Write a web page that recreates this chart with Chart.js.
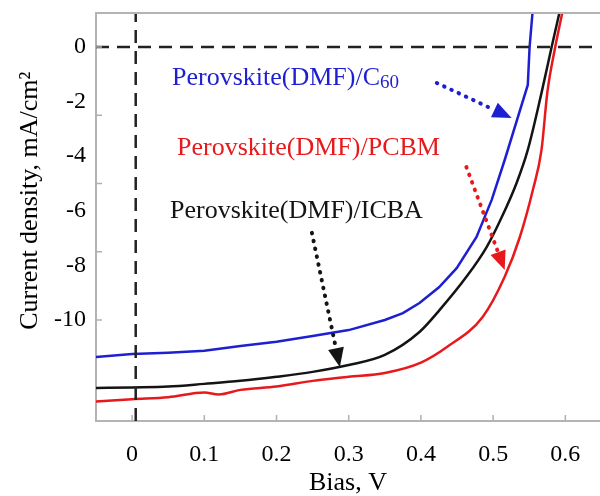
<!DOCTYPE html>
<html>
<head>
<meta charset="utf-8">
<script src="https://cdn.jsdelivr.net/npm/chart.js@4.4.1/dist/chart.umd.min.js"></script>
<style>
  html, body { margin: 0; padding: 0; background: #fff; }
  #jvChart { display: block; }
</style>
</head>
<body>
<canvas id="jvChart" width="600" height="496"></canvas>
<script>
// J-V curves (bias in V, current density in mA/cm2)
const biasC60 = [-0.05, 0, 0.05, 0.1, 0.15, 0.2, 0.25, 0.3, 0.35, 0.375, 0.398, 0.425, 0.4495, 0.477, 0.498, 0.516, 0.548, 0.5505, 0.5546];
const currentC60 = [-11.36, -11.25, -11.2, -11.13, -10.95, -10.8, -10.59, -10.37, -10.0, -9.75, -9.38, -8.8, -8.10, -6.96, -5.60, -4.14, -1.39, 0, 1.28];

const biasPCBM = [-0.05, 0, 0.05, 0.1, 0.12, 0.15, 0.2, 0.25, 0.3, 0.35, 0.4, 0.436, 0.4855, 0.516, 0.537, 0.555, 0.567, 0.575, 0.586, 0.596];
const currentPCBM = [-12.99, -12.9, -12.83, -12.66, -12.73, -12.56, -12.44, -12.23, -12.08, -11.94, -11.56, -10.99, -9.89, -8.42, -6.96, -5.24, -3.77, -1.68, 0, 1.28];

const biasICBA = [-0.05, 0, 0.05, 0.1, 0.15, 0.2, 0.25, 0.3, 0.35, 0.398, 0.426, 0.463, 0.491, 0.512, 0.5325, 0.548, 0.567, 0.581, 0.592];
const currentICBA = [-12.49, -12.47, -12.44, -12.34, -12.23, -12.08, -11.9, -11.65, -11.28, -10.44, -9.63, -8.42, -7.33, -6.23, -4.98, -3.77, -1.68, 0, 1.28];

const xTicks = [0, 0.1, 0.2, 0.3, 0.4, 0.5, 0.6];
const xTickLabels = ['0', '0.1', '0.2', '0.3', '0.4', '0.5', '0.6'];
const yTicks = [-10, -8, -6, -4, -2, 0];
const yTickLabels = ['-10', '-8', '-6', '-4', '-2', '0'];
const yMinorTicks = [-10, -7.5, -5, -2.5, 0];

const xRange = [-0.05, 0.648];
const yRange = [-13.7, 1.245];
const zeroBias = 0.005;

const serif = "'Liberation Serif', 'Times New Roman', serif";
const BLUE = '#1f1fd2';
const RED = '#e8191c';
const BLACK = '#141414';

// labels and dotted arrows, placed in data coordinates
const notes = [
    { text: 'Perovskite(DMF)/C', sub: '60', color: BLUE, x: 0.0553, y: -1.39 },
    { text: 'Perovskite(DMF)/PCBM', color: RED, x: 0.0622, y: -3.96 },
    { text: 'Perovskite(DMF)/ICBA', color: BLACK, x: 0.0526, y: -6.26 }
];
const arrows = [
    { color: BLUE, from: [0.422, -1.32], to: [0.5256, -2.60] },
    { color: RED, from: [0.463, -4.40], to: [0.516, -8.17] },
    { color: BLACK, from: [0.249, -6.81], to: [0.2877, -11.72] }
];

function toPoints(xs, ys) {
    return xs.map(function (v, i) { return { x: v, y: ys[i] }; });
}

const decorPlugin = {
    id: 'decor',
    afterDatasetsDraw: function (chart) {
        const ctx = chart.ctx;
        const xs = chart.scales.x;
        const ys = chart.scales.y;
        const area = chart.chartArea;

        ctx.save();
        // top frame
        ctx.strokeStyle = '#b4b4b4';
        ctx.lineWidth = 2;
        ctx.beginPath();
        ctx.moveTo(area.left, area.top);
        ctx.lineTo(area.right, area.top);
        ctx.stroke();

        // inward tick marks
        ctx.lineWidth = 1.5;
        ctx.strokeStyle = '#b0b0b0';
        xTicks.forEach(function (v) {
            const px = xs.getPixelForValue(v);
            ctx.beginPath();
            ctx.moveTo(px, area.bottom);
            ctx.lineTo(px, area.bottom - 6);
            ctx.stroke();
        });
        yMinorTicks.forEach(function (v) {
            const py = ys.getPixelForValue(v);
            ctx.beginPath();
            ctx.moveTo(area.left, py);
            ctx.lineTo(area.left + 6, py);
            ctx.stroke();
        });

        // notes
        ctx.textBaseline = 'alphabetic';
        ctx.textAlign = 'left';
        notes.forEach(function (n) {
            const px = xs.getPixelForValue(n.x);
            const py = ys.getPixelForValue(n.y);
            ctx.fillStyle = n.color;
            ctx.font = '26px ' + serif;
            ctx.fillText(n.text, px, py);
            if (n.sub) {
                const w = ctx.measureText(n.text).width;
                ctx.font = '19px ' + serif;
                ctx.fillText(n.sub, px + w, py + 3);
            }
        });

        // dotted arrows
        arrows.forEach(function (a) {
            const x0 = xs.getPixelForValue(a.from[0]);
            const y0 = ys.getPixelForValue(a.from[1]);
            const x1 = xs.getPixelForValue(a.to[0]);
            const y1 = ys.getPixelForValue(a.to[1]);
            const ang = Math.atan2(y1 - y0, x1 - x0);
            const head = 19;
            const half = 8;
            const bx = x1 - head * Math.cos(ang);
            const by = y1 - head * Math.sin(ang);
            ctx.strokeStyle = a.color;
            ctx.fillStyle = a.color;
            ctx.lineWidth = 4;
            ctx.lineCap = 'round';
            ctx.setLineDash([0.5, 7.5]);
            ctx.beginPath();
            ctx.moveTo(x0, y0);
            ctx.lineTo(bx, by);
            ctx.stroke();
            ctx.setLineDash([]);
            ctx.beginPath();
            ctx.moveTo(x1, y1);
            ctx.lineTo(bx + half * Math.sin(ang), by - half * Math.cos(ang));
            ctx.lineTo(bx - half * Math.sin(ang), by + half * Math.cos(ang));
            ctx.closePath();
            ctx.fill();
        });
        ctx.restore();
    }
};

const ctx = document.getElementById('jvChart').getContext('2d');

new Chart(ctx, {
    type: 'line',
    data: {
        datasets: [
            {
                label: 'zero current',
                data: toPoints(xRange, [0, 0]),
                borderColor: '#222',
                borderWidth: 2.5,
                borderDash: [13, 8],
                pointRadius: 0
            },
            {
                label: 'zero bias',
                data: toPoints([zeroBias, zeroBias], yRange),
                borderColor: '#222',
                borderWidth: 2.5,
                borderDash: [13, 8],
                pointRadius: 0
            },
            {
                label: 'Perovskite(DMF)/C60',
                data: toPoints(biasC60, currentC60),
                borderColor: BLUE,
                borderWidth: 2.5,
                pointRadius: 0,
                tension: 0
            },
            {
                label: 'Perovskite(DMF)/PCBM',
                data: toPoints(biasPCBM, currentPCBM),
                borderColor: RED,
                borderWidth: 2.5,
                pointRadius: 0,
                cubicInterpolationMode: 'monotone'
            },
            {
                label: 'Perovskite(DMF)/ICBA',
                data: toPoints(biasICBA, currentICBA),
                borderColor: BLACK,
                borderWidth: 2.5,
                pointRadius: 0,
                cubicInterpolationMode: 'monotone'
            }
        ]
    },
    options: {
        responsive: false,
        animation: false,
        layout: { padding: { top: 13, right: 0, left: 0, bottom: 0 } },
        plugins: {
            legend: { display: false },
            tooltip: { enabled: false }
        },
        scales: {
            x: {
                type: 'linear',
                min: xRange[0],
                max: xRange[1],
                afterBuildTicks: function (scale) {
                    scale.ticks = xTicks.map(function (v) { return { value: v }; });
                },
                afterFit: function (scale) {
                    scale.height = 75;
                    scale.paddingLeft = 0;
                    scale.paddingRight = 0;
                },
                ticks: {
                    autoSkip: false,
                    maxRotation: 0,
                    padding: 11,
                    color: '#000',
                    font: { family: serif, size: 24 },
                    callback: function (val) {
                        const i = xTicks.indexOf(val);
                        return i >= 0 ? xTickLabels[i] : '';
                    }
                },
                grid: { display: false },
                border: { display: true, color: '#b4b4b4', width: 2 },
                title: {
                    display: true,
                    text: 'Bias, V',
                    color: '#000',
                    font: { family: serif, size: 26, lineHeight: 1 },
                    padding: { top: 0, bottom: 0 }
                }
            },
            y: {
                type: 'linear',
                min: yRange[0],
                max: yRange[1],
                afterBuildTicks: function (scale) {
                    scale.ticks = yTicks.map(function (v) { return { value: v }; });
                },
                afterFit: function (scale) {
                    scale.width = 96;
                    scale.paddingTop = 0;
                    scale.paddingBottom = 0;
                },
                ticks: {
                    autoSkip: false,
                    padding: 10,
                    color: '#000',
                    font: { family: serif, size: 24 },
                    callback: function (val) {
                        const i = yTicks.indexOf(val);
                        return i >= 0 ? yTickLabels[i] : '';
                    }
                },
                grid: { display: false, drawTicks: false },
                border: { display: true, color: '#b4b4b4', width: 2 },
                title: {
                    display: true,
                    // leading spaces lift the title a little, as in the figure
                    text: '     Current density, mA/cm²',
                    color: '#000',
                    font: { family: serif, size: 26, lineHeight: 1.2 },
                    padding: { top: 15, bottom: 0 }
                }
            }
        }
    },
    plugins: [decorPlugin]
});
</script>
</body>
</html>
